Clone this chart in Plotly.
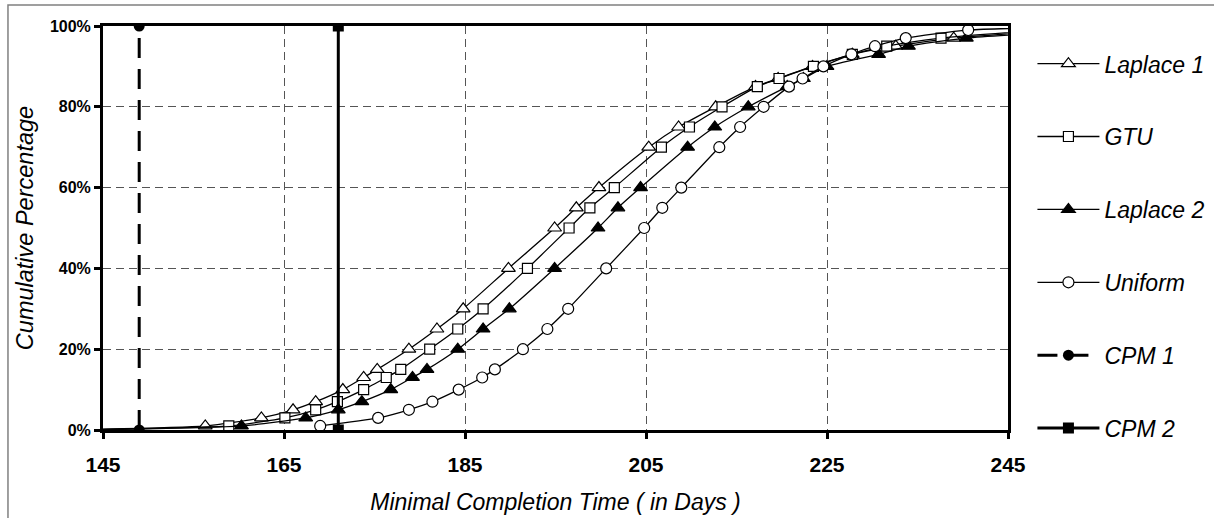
import plotly.graph_objects as go

# Cumulative percentage levels (%), shared by the simulated series
pct = [1, 3, 5, 7, 10, 13, 15, 20, 25, 30, 40, 50, 55, 60, 70, 75, 80, 85, 87, 90, 93, 95, 97, 99]

laplace1_days = [156.3, 162.5, 166.0, 168.5, 171.5, 173.8, 175.3, 178.8, 181.9, 184.8, 189.8, 194.9,
                 197.3, 199.8, 205.3, 208.6, 212.7, 217.1, 219.6, 223.4, 227.8, 232.6, 239.0, 251.0]
gtu_days = [158.9, 165.1, 168.5, 170.9, 173.8, 176.3, 177.9, 181.1, 184.2, 187.0, 191.9, 196.5,
            198.8, 201.5, 206.7, 209.8, 213.4, 217.3, 219.7, 223.5, 227.8, 231.6, 237.6, 249.0]
laplace2_days = [160.3, 167.4, 171.0, 173.6, 176.8, 179.2, 180.8, 184.2, 187.0, 189.9, 194.9, 199.7,
                 201.9, 204.4, 209.6, 212.6, 216.3, 220.6, 222.4, 225.0, 230.7, 234.0, 240.4, 255.0]
uniform_days = [169.0, 175.4, 178.8, 181.4, 184.3, 186.9, 188.3, 191.4, 194.1, 196.4, 200.6, 204.8,
                206.8, 208.9, 213.1, 215.4, 218.0, 220.8, 222.3, 224.6, 227.7, 230.3, 233.7, 240.6]

# start points (0 %) and tail points for the curves
laplace1_start, gtu_start, laplace2_start = 140.0, 141.0, 143.0
uniform_tail_day, uniform_tail_pct = 262.0, 100.0

cpm1_days = [149, 149]
cpm2_days = [171, 171]
cpm_pct = [0, 100]

x_ticks = [145, 165, 185, 205, 225, 245]
y_ticks = [0, 20, 40, 60, 80, 100]
y_tick_labels = ["0%", "20%", "40%", "60%", "80%", "100%"]

fig = go.Figure()

line_style = dict(color="black", width=1.3, shape="spline", smoothing=0.6)

def add_curve(name, xs, ys, symbol, fill, size):
    fig.add_trace(go.Scatter(
        x=xs, y=ys, name=name, mode="lines+markers", legendgroup=name,
        line=line_style,
        marker=dict(symbol=symbol, size=size, color=fill, line=dict(color="black", width=1.2)),
    ))

add_curve("Laplace 1", [laplace1_start] + laplace1_days, [0] + pct, "triangle-up", "white", 12)
add_curve("GTU", [gtu_start] + gtu_days, [0] + pct, "square", "white", 10)
add_curve("Laplace 2", [laplace2_start] + laplace2_days, [0] + pct, "triangle-up", "black", 12)
add_curve("Uniform", uniform_days + [uniform_tail_day], pct + [uniform_tail_pct], "circle", "white", 11)

fig.add_trace(go.Scatter(
    x=cpm1_days, y=cpm_pct, name="CPM 1", mode="lines+markers", legendgroup="CPM 1",
    line=dict(color="black", width=3, dash="20px,11px"),
    marker=dict(symbol="circle", size=11, color="black"),
))
fig.add_trace(go.Scatter(
    x=cpm2_days, y=cpm_pct, name="CPM 2", mode="lines+markers", legendgroup="CPM 2",
    line=dict(color="black", width=3),
    marker=dict(symbol="square", size=11, color="black"),
))

fig.update_layout(
    width=1214, height=518,
    margin=dict(l=103, r=206, t=26, b=88, autoexpand=False),
    paper_bgcolor="white", plot_bgcolor="white",
    font=dict(family="Liberation Sans, Arial, sans-serif", color="black"),
    showlegend=True,
    legend=dict(
        x=1.027, y=0.96, xanchor="left", yanchor="top",
        font=dict(size=23, style="italic"),
        tracegroupgap=40, bgcolor="rgba(0,0,0,0)",
        itemwidth=62, maxheight=518,
    ),
    shapes=[dict(type="rect", xref="paper", yref="paper",
                 x0=-0.105, x1=1.3, y0=-0.3, y1=1.052,
                 line=dict(color="#808080", width=1.5), layer="below")],
)

fig.update_xaxes(
    range=[145, 245], tickvals=x_ticks, showline=True, linewidth=3, linecolor="black", mirror=True,
    ticks="outside", ticklen=6, tickwidth=3, tickcolor="black", automargin=False,
    showgrid=True, gridcolor="#555555", gridwidth=1, griddash="8px,5px",
    tickfont=dict(size=21, weight="bold"), ticklabelstandoff=8,
    title=dict(text="Minimal Completion Time ( in Days )", font=dict(size=23, style="italic"), standoff=19),
    zeroline=False,
)
fig.update_yaxes(
    range=[0, 100], tickvals=y_ticks, ticktext=y_tick_labels, showline=True, linewidth=3, linecolor="black",
    mirror=True, ticks="outside", ticklen=6, tickwidth=3, tickcolor="black", automargin=False,
    showgrid=True, gridcolor="#555555", gridwidth=1, griddash="8px,5px",
    tickfont=dict(size=16, weight="bold"),
    title=dict(text="Cumulative Percentage", font=dict(size=23.5, style="italic"), standoff=10),
    zeroline=False,
)

fig.write_html("out.html", config={"displayModeBar": False},
               post_script="document.body.style.margin='0';")
